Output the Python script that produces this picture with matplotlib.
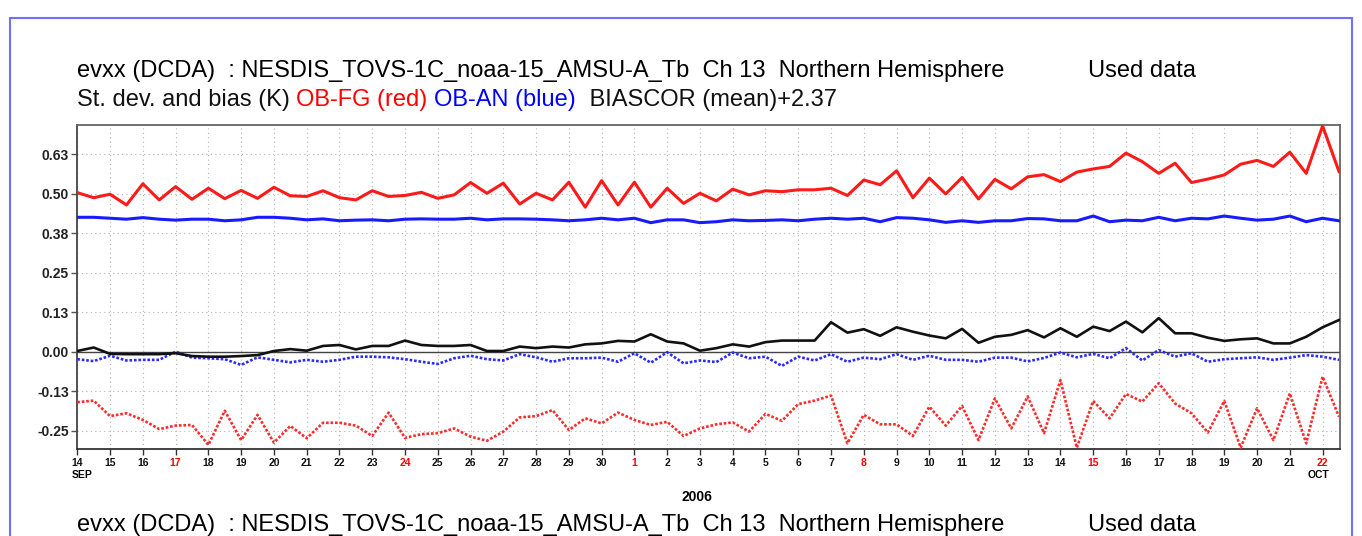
import numpy as np
import pandas as pd
import matplotlib
matplotlib.use('Agg')
import matplotlib.pyplot as plt
import matplotlib.patches as patches

plt.rcParams['font.family'] = ['Liberation Sans', 'DejaVu Sans']

# 12-hourly statistics, 14 Sep 2006 00UTC .. 22 Oct 2006 12UTC
obfg_std = [0.503, 0.487, 0.498, 0.464, 0.531, 0.480, 0.522, 0.482, 0.517, 0.484,
            0.510, 0.485, 0.520, 0.493, 0.491, 0.509, 0.487, 0.480, 0.509, 0.491,
            0.494, 0.504, 0.485, 0.496, 0.535, 0.501, 0.533, 0.467, 0.501, 0.480,
            0.536, 0.457, 0.541, 0.464, 0.536, 0.457, 0.517, 0.469, 0.501, 0.477,
            0.514, 0.496, 0.509, 0.506, 0.512, 0.512, 0.517, 0.494, 0.543, 0.528,
            0.572, 0.487, 0.549, 0.499, 0.551, 0.483, 0.545, 0.515, 0.553, 0.560,
            0.538, 0.568, 0.578, 0.586, 0.628, 0.601, 0.564, 0.596, 0.535, 0.546,
            0.559, 0.593, 0.605, 0.586, 0.631, 0.564, 0.714, 0.570]
oban_std = [0.425, 0.425, 0.422, 0.419, 0.424, 0.419, 0.416, 0.419, 0.419, 0.414,
            0.417, 0.425, 0.425, 0.422, 0.417, 0.420, 0.414, 0.416, 0.417, 0.414,
            0.419, 0.420, 0.419, 0.419, 0.422, 0.417, 0.420, 0.420, 0.419, 0.417,
            0.414, 0.417, 0.422, 0.417, 0.422, 0.408, 0.417, 0.417, 0.408, 0.411,
            0.417, 0.414, 0.415, 0.417, 0.414, 0.419, 0.422, 0.419, 0.422, 0.411,
            0.424, 0.422, 0.417, 0.409, 0.414, 0.409, 0.414, 0.414, 0.421, 0.420,
            0.414, 0.414, 0.429, 0.411, 0.416, 0.414, 0.425, 0.414, 0.422, 0.420,
            0.429, 0.422, 0.416, 0.419, 0.429, 0.411, 0.422, 0.414]
biascor = [0.002, 0.013, -0.007, -0.008, -0.008, -0.008, -0.005, -0.014, -0.016, -0.016,
           -0.014, -0.011, 0.002, 0.008, 0.003, 0.018, 0.021, 0.007, 0.018, 0.018,
           0.035, 0.021, 0.018, 0.018, 0.021, 0.002, 0.002, 0.016, 0.011, 0.016,
           0.013, 0.023, 0.026, 0.034, 0.032, 0.055, 0.032, 0.026, 0.003, 0.011,
           0.023, 0.016, 0.030, 0.035, 0.035, 0.035, 0.093, 0.060, 0.071, 0.050,
           0.077, 0.063, 0.051, 0.042, 0.072, 0.028, 0.047, 0.053, 0.068, 0.045,
           0.074, 0.047, 0.079, 0.065, 0.095, 0.061, 0.106, 0.058, 0.058, 0.044,
           0.034, 0.039, 0.042, 0.026, 0.026, 0.047, 0.077, 0.100]
oban_bias = [-0.024, -0.030, -0.013, -0.028, -0.026, -0.026, 0.000, -0.019, -0.021, -0.024,
             -0.042, -0.018, -0.026, -0.034, -0.026, -0.032, -0.026, -0.016, -0.016, -0.018,
             -0.024, -0.032, -0.039, -0.021, -0.013, -0.024, -0.028, -0.008, -0.018, -0.032,
             -0.021, -0.021, -0.019, -0.032, -0.005, -0.035, -0.002, -0.037, -0.028, -0.033,
             -0.003, -0.021, -0.016, -0.045, -0.016, -0.028, -0.008, -0.032, -0.019, -0.024,
             -0.008, -0.026, -0.013, -0.026, -0.026, -0.032, -0.019, -0.019, -0.031, -0.020,
             -0.003, -0.018, -0.007, -0.021, 0.011, -0.028, 0.005, -0.016, -0.005, -0.032,
             -0.024, -0.021, -0.018, -0.026, -0.019, -0.011, -0.016, -0.026]
obfg_bias = [-0.160, -0.155, -0.204, -0.195, -0.216, -0.245, -0.234, -0.232, -0.295, -0.187,
             -0.280, -0.200, -0.288, -0.235, -0.274, -0.225, -0.225, -0.234, -0.267, -0.193,
             -0.273, -0.261, -0.258, -0.243, -0.269, -0.282, -0.253, -0.208, -0.204, -0.185,
             -0.248, -0.211, -0.227, -0.193, -0.216, -0.232, -0.222, -0.267, -0.243, -0.230,
             -0.224, -0.253, -0.197, -0.219, -0.166, -0.155, -0.139, -0.290, -0.200, -0.230,
             -0.230, -0.267, -0.174, -0.234, -0.172, -0.280, -0.148, -0.243, -0.142, -0.258,
             -0.090, -0.304, -0.156, -0.211, -0.134, -0.158, -0.100, -0.164, -0.195, -0.256,
             -0.156, -0.304, -0.179, -0.280, -0.132, -0.290, -0.079, -0.206]

y_ticks = [-0.25, -0.125, 0.0, 0.125, 0.25, 0.375, 0.5, 0.625]
y_labels = ['-0.25', '-0.13', '0.00', '0.13', '0.25', '0.38', '0.50', '0.63']

title1 = 'evxx (DCDA)  : NESDIS_TOVS-1C_noaa-15_AMSU-A_Tb  Ch 13  Northern Hemisphere'

times = pd.date_range('2006-09-14 00:00', periods=len(obfg_std), freq='12h')
days = pd.date_range('2006-09-14', '2006-10-22', freq='D')

W, H = 1362, 536
fig = plt.figure(figsize=(W / 100, H / 100), dpi=100)


def fx(x):
    return x / W


def fy(y):
    return 1 - y / H


ax = fig.add_axes([fx(77.3), fy(449.3), fx(1340) - fx(77.3), fy(125) - fy(449.3)])

ax.plot(times, obfg_std, color='#ff1a1a', lw=2.2, zorder=5)
ax.plot(times, oban_std, color='#1a1aff', lw=2.2, zorder=5)
ax.plot(times, biascor, color='#111111', lw=1.9, zorder=5)
ax.plot(times, oban_bias, color='#2a2aff', lw=1.9, ls=(0, (1, 0.7)), zorder=4)
ax.plot(times, obfg_bias, color='#ff2a2a', lw=1.9, ls=(0, (1, 0.7)), zorder=4)
ax.axhline(0, color='#444444', lw=1.0, zorder=3)

ax.set_xlim(pd.Timestamp('2006-09-14 00:00'), pd.Timestamp('2006-10-22 12:45'))
ax.set_ylim(-0.309, 0.717)

ax.set_yticks(y_ticks)
ax.set_yticklabels(y_labels, fontsize=10, fontweight='bold', color='#222222')
ax.set_xticks(days)
ax.set_xticklabels([str(d.day) for d in days], fontsize=7.5, fontweight='bold')
for lab, d in zip(ax.get_xticklabels(), days):
    # sundays in red
    lab.set_color('#ff0000' if d.dayofweek == 6 else '#111111')

ax.tick_params(axis='y', direction='out', length=4, width=1, color='#555555', pad=2)
ax.tick_params(axis='x', direction='out', length=4, width=1, color='#333333', pad=2)
ax.grid(True, ls=(0, (1, 3)), color='#b4b4b4', lw=0.8)
for s in ax.spines.values():
    s.set_color('#666666')
    s.set_linewidth(1.3)
ax.spines['bottom'].set_color('#333333')
ax.spines['left'].set_color('#444444')

# month names under the first and last day
ax.text(pd.Timestamp('2006-09-13 20:00'), -0.08, 'SEP', transform=ax.get_xaxis_transform(),
        ha='left', va='center', fontsize=7.5, fontweight='bold')
ax.text(pd.Timestamp('2006-10-22 05:00'), -0.08, 'OCT', transform=ax.get_xaxis_transform(),
        ha='right', va='center', fontsize=7.5, fontweight='bold')
fig.text(fx(697), fy(497), '2006', ha='center', va='center', fontsize=10, fontweight='bold')

# titles
fig.text(fx(77), fy(71), title1, ha='left', va='center', fontsize=17)
fig.text(fx(1088), fy(71), 'Used data', ha='left', va='center', fontsize=17)
fig.text(fx(77), fy(525), title1, ha='left', va='center', fontsize=17)
fig.text(fx(1088), fy(525), 'Used data', ha='left', va='center', fontsize=17)

parts = [('St. dev. and bias (K) ', '#111111'), ('OB-FG (red) ', '#ff0000'),
         ('OB-AN (blue) ', '#0000ff'), (' BIASCOR (mean)+2.37', '#111111')]
renderer = fig.canvas.get_renderer()
x = 77
for txt, col in parts:
    t = fig.text(fx(x), fy(100), txt, ha='left', va='center', fontsize=17, color=col)
    bb = t.get_window_extent(renderer=renderer)
    x += bb.width

# outer frame of the page
fig.patches.append(patches.Rectangle((fx(10), -0.1), fx(1352) - fx(10), fy(18) + 0.1,
                                     transform=fig.transFigure, fill=False,
                                     edgecolor='#7070ff', lw=1.5))

fig.savefig('out.png', dpi=100)
